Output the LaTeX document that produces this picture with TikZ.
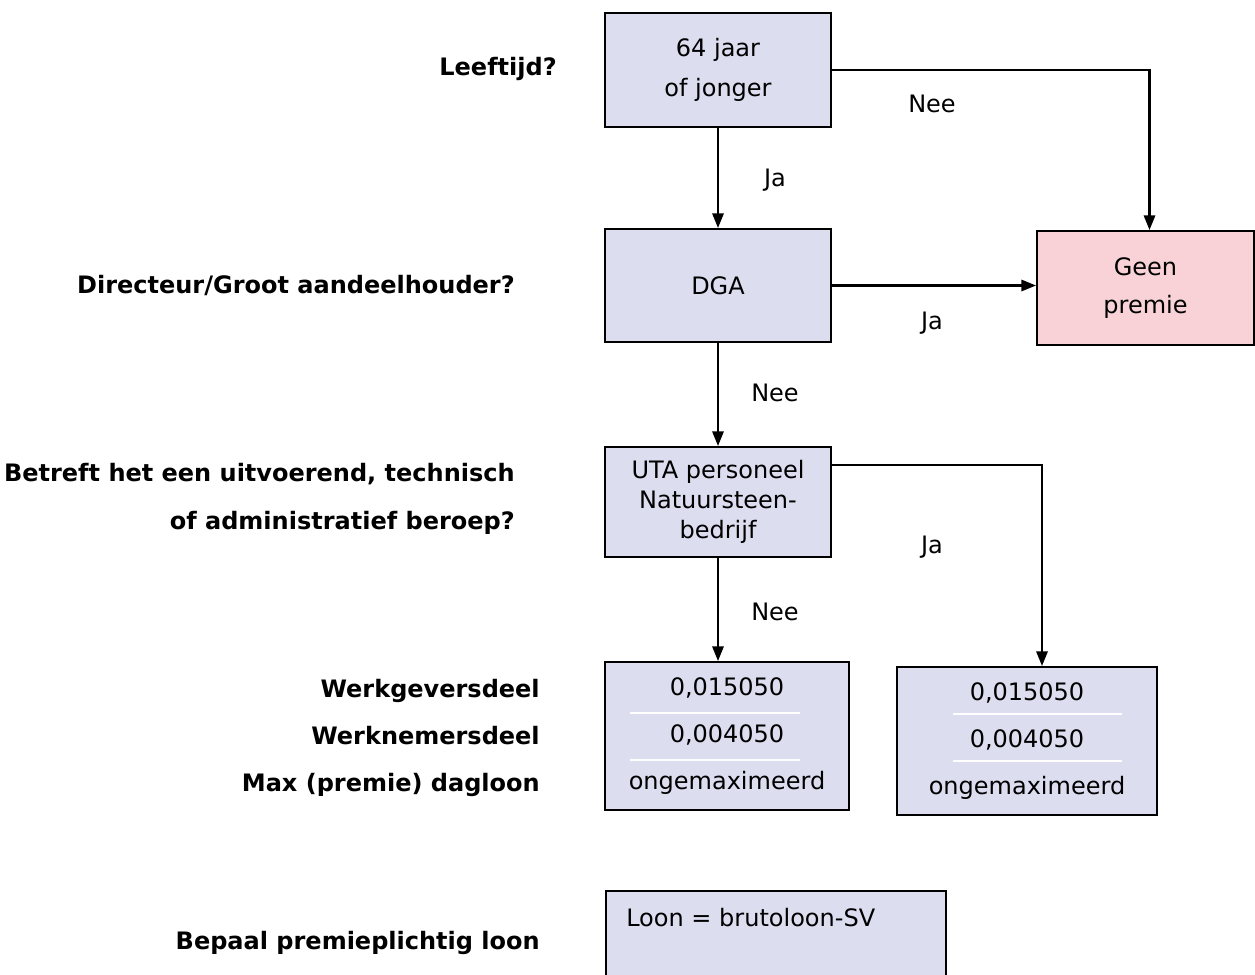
\documentclass[tikz,border=0pt]{standalone}
\usepackage{fontspec}
\setmainfont{DejaVu Sans}
\usetikzlibrary{arrows.meta,calc}
\definecolor{vakkleur}{RGB}{221,221,240}
\definecolor{geenkleur}{RGB}{248,210,214}

\begin{document}
\begin{tikzpicture}[x=0.75pt,y=-0.75pt]
\tikzstyle{every node}+=[inner sep=0pt, font=\fontsize{18}{21}\selectfont]
\tikzstyle{vak}=[draw=black, line width=1.5pt, fill=vakkleur, align=center]
\tikzstyle{pijl}=[line width=1.6pt, -{Triangle[length=11pt,width=8.5pt]}]
\tikzstyle{vraag}=[anchor=east, align=right, font=\fontsize{18}{36}\selectfont\bfseries]
\clip (0,0) rectangle (1255,974);

% vakken
\node[vak, minimum width=169.5pt, minimum height=84.75pt, font=\fontsize{18}{30}\selectfont] (leeftijd) at (718,70) {64 jaar\\of jonger};
\node[vak, minimum width=169.5pt, minimum height=84.75pt] (dga) at (718,285.5) {DGA};
\node[vak, fill=geenkleur, minimum width=162.75pt, minimum height=85.5pt, font=\fontsize{18}{28.5}\selectfont] (geen) at (1145.5,288) {Geen\\premie};
\node[vak, minimum width=169.5pt, minimum height=82.5pt, font=\fontsize{18}{22.5}\selectfont] (uta) at (718,502) {UTA personeel\\Natuursteen-\\bedrijf};
\node[vak, minimum width=183pt, minimum height=111pt, font=\fontsize{18}{35}\selectfont] (lpremie) at (727,736) {0,015050\\0,004050\\ongemaximeerd};
\node[vak, minimum width=195pt, minimum height=111pt, font=\fontsize{18}{35}\selectfont] (rpremie) at (1027,741) {0,015050\\0,004050\\ongemaximeerd};
\node[vak, anchor=north west, minimum width=255pt, minimum height=75pt] (loon) at (605,890) {};
\node[anchor=west] (loontekst) at ($(loon.north west)+(21,28)$) {Loon = brutoloon-SV};

% witte scheidingslijnen
\draw[white, line width=1pt] (630,713) -- (800,713);
\draw[white, line width=1pt] (630,760) -- (800,760);
\draw[white, line width=1pt] (953,714) -- (1122,714);
\draw[white, line width=1pt] (953,761) -- (1122,761);

% vragen
\node[vraag] (q1) at (557,69) {Leeftijd?};
\node[vraag] (q2) at (515,285) {Directeur/Groot aandeelhouder?};
\node[vraag] (q3) at (515,499) {Betreft het een uitvoerend, technisch\\of administratief beroep?};
\node[vraag, font=\fontsize{18}{35}\selectfont\bfseries] (q4) at (540,738) {Werkgeversdeel\\Werknemersdeel\\Max (premie) dagloon};
\node[vraag] (q5) at (540,943) {Bepaal premieplichtig loon};

% pijlen
\draw[pijl] (leeftijd.south) -- (leeftijd.south |- dga.north);
\draw[pijl] (leeftijd.east) -| ([xshift=3pt]geen.north);
\draw[pijl] (dga.east) -- (dga.east -| geen.west);
\draw[pijl] (dga) -- (uta);
\draw[pijl] ([yshift=27.75pt]uta.east) -| ([xshift=11.25pt]rpremie.north);
\draw[pijl] (uta.south) -- (uta.south |- lpremie.north);

\node (ja1) at (775,180) {Ja};
\node (nee1) at (932,104) {Nee};
\node (ja2) at (932,323) {Ja};
\node (nee2) at (775,393) {Nee};
\node (ja3) at (932,547) {Ja};
\node (nee3) at (775,612) {Nee};
\end{tikzpicture}
\end{document}
